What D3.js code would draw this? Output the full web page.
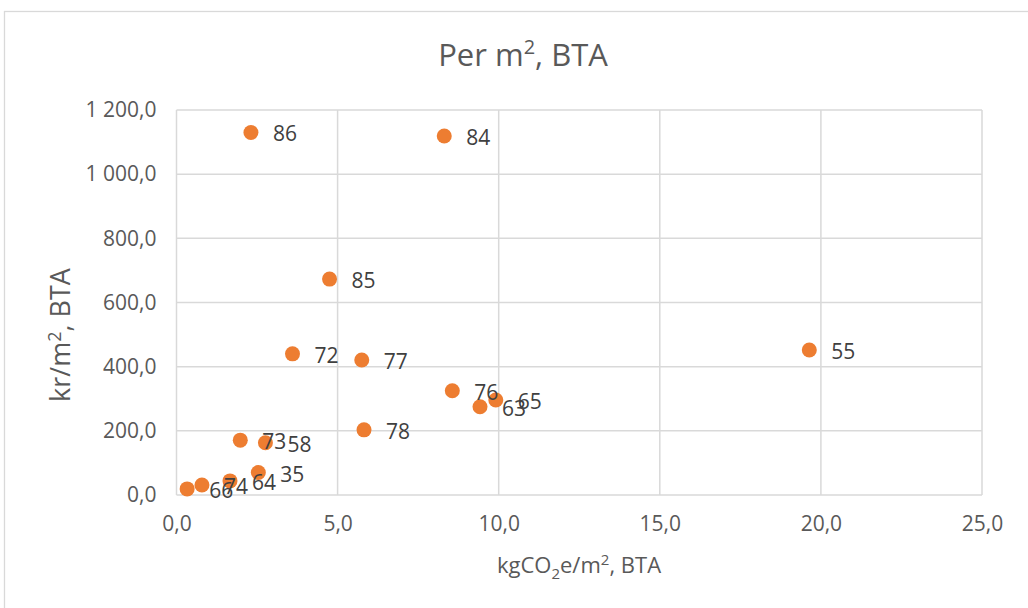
<!DOCTYPE html>
<html>
<head>
<meta charset="utf-8">
<script src="https://cdn.jsdelivr.net/npm/d3@7/dist/d3.min.js"></script>
<style>
  html, body { margin: 0; padding: 0; background: #fff; }
  svg { display: block; font-family: "Open Sans", "Liberation Sans", sans-serif; }
</style>
</head>
<body>
<svg id="chart" width="1028" height="608"></svg>
<script>
// Project IDs with climate footprint (kgCO2e/m², BTA) and cost (kr/m², BTA)
const ids    = ["86", "84", "85", "72", "77", "55", "76", "63", "65", "78", "73", "58", "35", "64", "74", "66"];
const co2    = [2.31, 8.31, 4.75, 3.60, 5.75, 19.64, 8.56, 9.42, 9.91, 5.82, 1.98, 2.76, 2.54, 1.66, 0.79, 0.33];
const cost   = [1130, 1119, 673, 440, 421, 452, 325, 275, 296, 203, 171, 163, 70, 44, 31, 19];
const xTicks = [0, 5, 10, 15, 20, 25];
const yTicks = [0, 200, 400, 600, 800, 1000, 1200];

const points = ids.map((id, i) => ({ id, x: co2[i], y: cost[i] }));

const svg = d3.select("#chart");
const plot = { left: 176.5, right: 982, top: 110, bottom: 495 };
const grey = "#d9d9d9";
const textCol = "#595959";

// chart area border
svg.append("rect")
  .attr("x", 4.5).attr("y", 11.5)
  .attr("width", 1040).attr("height", 620)
  .attr("fill", "none").attr("stroke", grey).attr("stroke-width", 1.3);

const x = d3.scaleLinear().domain([0, 25]).range([plot.left, plot.right]);
const y = d3.scaleLinear().domain([0, 1200]).range([plot.bottom, plot.top]);

// number format with comma decimal and space thousands separator
const fmt = d3.formatLocale({ decimal: ",", thousands: "\u00a0", grouping: [3], currency: ["", " kr"] }).format(",.1f");

// gridlines
const grid = svg.append("g");
grid.selectAll("line.v").data(xTicks).join("line")
  .attr("x1", d => x(d)).attr("x2", d => x(d))
  .attr("y1", plot.top).attr("y2", plot.bottom)
  .attr("stroke", grey).attr("stroke-width", 1.5);
grid.selectAll("line.h").data(yTicks).join("line")
  .attr("x1", plot.left).attr("x2", plot.right)
  .attr("y1", d => y(d)).attr("y2", d => y(d))
  .attr("stroke", grey).attr("stroke-width", 1.5);

// axes (tick labels only, lines come from the grid)
const xAxis = svg.append("g")
  .attr("transform", `translate(0,${plot.bottom})`)
  .call(d3.axisBottom(x).tickValues(xTicks).tickFormat(fmt).tickSize(0).tickPadding(21));
const yAxis = svg.append("g")
  .attr("transform", `translate(${plot.left},0)`)
  .call(d3.axisLeft(y).tickValues(yTicks).tickFormat(fmt).tickSize(0).tickPadding(20));
[xAxis, yAxis].forEach(a => {
  a.select(".domain").remove();
  a.selectAll("text")
    .attr("fill", textCol)
    .style("font-family", "'Open Sans', 'Liberation Sans', sans-serif")
    .style("font-size", "21px");
});

// markers
svg.append("g").selectAll("circle").data(points).join("circle")
  .attr("cx", d => x(d.x)).attr("cy", d => y(d.y))
  .attr("r", 7.5)
  .attr("fill", "#ed7d31");

// data labels to the right of each marker
svg.append("g").selectAll("text").data(points).join("text")
  .attr("x", d => x(d.x) + 22)
  .attr("y", d => y(d.y) + 9)
  .attr("fill", "#404040")
  .style("font-size", "21px")
  .text(d => d.id);

// title
const title = svg.append("text")
  .attr("x", 523).attr("y", 66)
  .attr("text-anchor", "middle")
  .attr("fill", textCol)
  .style("font-size", "31px");
title.append("tspan").text("Per m");
title.append("tspan").attr("dy", -12).style("font-size", "20px").text("2");
title.append("tspan").attr("dy", 12).text(", BTA");

// x axis title
const xt = svg.append("text")
  .attr("x", 579).attr("y", 573)
  .attr("text-anchor", "middle")
  .attr("fill", textCol)
  .style("font-size", "22px");
xt.append("tspan").text("kgCO");
xt.append("tspan").attr("dy", 6).style("font-size", "15px").text("2");
xt.append("tspan").attr("dy", -6).text("e/m");
xt.append("tspan").attr("dy", -8).style("font-size", "15px").text("2");
xt.append("tspan").attr("dy", 8).text(", BTA");

// y axis title
const yt = svg.append("text")
  .attr("transform", "translate(70,335) rotate(-90)")
  .attr("text-anchor", "middle")
  .attr("fill", textCol)
  .style("font-size", "27px");
yt.append("tspan").text("kr/m");
yt.append("tspan").attr("dy", -9).style("font-size", "18px").text("2");
yt.append("tspan").attr("dy", 9).text(", BTA");
</script>
</body>
</html>
